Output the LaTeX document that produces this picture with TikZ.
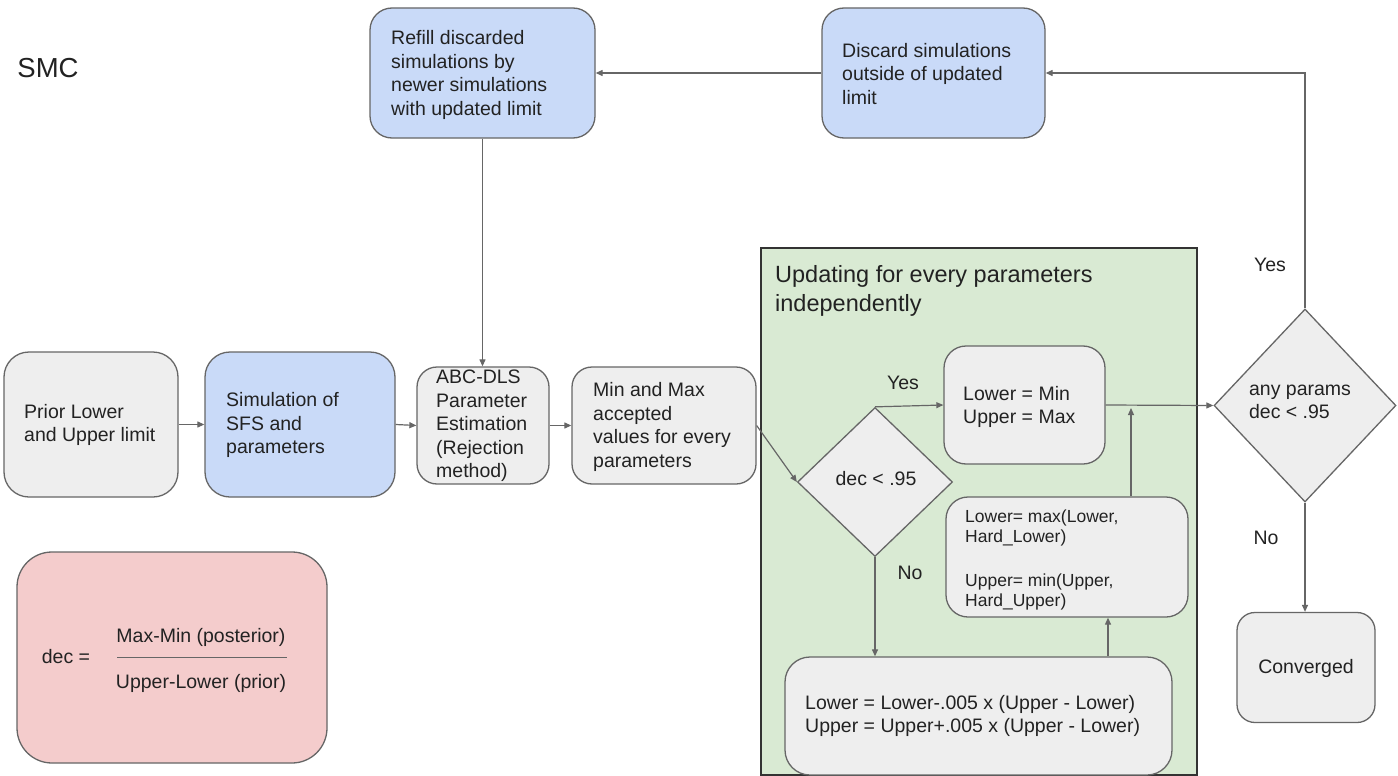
\documentclass[tikz,border=0pt]{standalone}
\usepackage{fontspec}
\setmainfont{Liberation Sans}
\usetikzlibrary{arrows.meta,shapes.geometric}
\definecolor{gfill}{HTML}{EEEEEE}
\definecolor{bfill}{HTML}{C9DAF8}
\definecolor{greenbg}{HTML}{D9EAD3}
\definecolor{rfill}{HTML}{F4CCCC}
\definecolor{edge}{HTML}{666666}
\definecolor{ink}{HTML}{222222}
\begin{document}
\begin{tikzpicture}[x=1pt,y=-1pt,
  box/.style={draw=edge, line width=1.3pt, rounded corners=22pt, inner sep=0pt},
  dia/.style={draw=edge, line width=1.3pt, fill=gfill, diamond, inner sep=0pt},
  txt/.style={font=\fontsize{19.5}{23.5}\selectfont, align=left, inner sep=0pt, text=ink},
  arr/.style={draw=edge, line width=1.2pt, -{Triangle[length=7pt,width=6pt]}},
]
\useasboundingbox (0,0) rectangle (1398,776);
\fill[white] (0,0) rectangle (1398,776);

% green frame
\node[draw=black!80, line width=1.3pt, fill=greenbg, minimum width=436, minimum height=527, inner sep=0pt] (frame) at (979,511.5) {};
\node[txt, font=\fontsize{23.5}{29}\selectfont, anchor=west] (ftitle) at (775,291) {Updating for every parameters\\independently};

% SMC label
\node[txt, font=\fontsize{27.5}{30}\selectfont] (smc) at (48,68) {SMC};

% main row
\node[box, fill=gfill, minimum width=174, minimum height=145, rounded corners=25pt] (prior) at (91,424.5) {};
\node[txt, anchor=west] (priort) at (24,425) {Prior Lower\\and Upper limit};
\node[box, fill=bfill, minimum width=190, minimum height=145, rounded corners=25pt] (sim) at (300,424.5) {};
\node[txt, anchor=west] (simt) at (226,425) {Simulation of\\SFS and\\parameters};
\node[box, fill=gfill, minimum width=132, minimum height=117, rounded corners=20pt] (abc) at (483,425.5) {};
\node[txt, anchor=west] (abct) at (436,426) {ABC-DLS\\Parameter\\Estimation\\(Rejection\\method)};
\node[box, fill=gfill, minimum width=184, minimum height=117, rounded corners=20pt] (minmax) at (664,425.5) {};
\node[txt, anchor=west] (minmaxt) at (593,427) {Min and Max\\accepted\\values for every\\parameters};

% top row
\node[box, fill=bfill, minimum width=225, minimum height=130, rounded corners=22pt] (refill) at (482.5,73) {};
\node[txt, anchor=west] (refillt) at (391,75) {Refill discarded\\simulations by\\newer simulations\\with updated limit};
\node[box, fill=bfill, minimum width=223, minimum height=130, rounded corners=22pt] (disc) at (933.5,73) {};
\node[txt, anchor=west] (disct) at (842,74) {Discard simulations\\outside of updated\\limit};

% inside green frame
\node[dia, minimum width=155, minimum height=149] (dec) at (875,482) {};
\node[txt] (dect) at (876,479) {dec < .95};
\node[box, fill=gfill, minimum width=161, minimum height=118, rounded corners=22pt] (lm) at (1024.5,405) {};
\node[txt, anchor=west] (lmt) at (963,407) {Lower = Min\\Upper = Max};
\node[box, fill=gfill, minimum width=242, minimum height=120, rounded corners=22pt] (hard) at (1067,557) {};
\node[txt, anchor=west, font=\fontsize{17.5}{20.5}\selectfont] (hardt) at (965,560) {Lower= max(Lower,\\Hard\_Lower)\\[23pt]Upper= min(Upper,\\Hard\_Upper)};
\node[box, fill=gfill, minimum width=387, minimum height=118, rounded corners=25pt] (bot) at (978.5,716) {};
\node[txt, anchor=west] (bott) at (805,716) {Lower = Lower-.005 x (Upper - Lower)\\Upper = Upper+.005 x (Upper - Lower)};

% right side
\node[dia, minimum width=182, minimum height=193] (any) at (1305,405.5) {};
\node[txt] (anyt) at (1300,402) {any params\\dec < .95};
\node[box, fill=gfill, minimum width=138, minimum height=110, rounded corners=18pt] (conv) at (1306,667.5) {};
\node[txt] (convt) at (1306,668) {Converged};

% labels
\node[txt] (yes1) at (903,383) {Yes};
\node[txt] (no1) at (910,573) {No};
\node[txt] (yes2) at (1270,265) {Yes};
\node[txt] (no2) at (1266,538) {No};

% dec formula
\node[box, fill=rfill, minimum width=310, minimum height=211, rounded corners=35pt] (formula) at (172,657.5) {};
\node[txt] (dect2) at (66,657) {dec =};
\node[txt] (num) at (201,637) {Max-Min (posterior)};
\node[txt] (den) at (201,683) {Upper-Lower (prior)};
\coordinate (fl) at (117,657);
\coordinate (fr) at (287,657);
\draw[draw=edge, line width=0.9pt] (fl) -- (fr);

% connectors
\coordinate (c1) at (1108,0);
\coordinate (c2) at (1131,0);
\draw[arr] (prior.east) -- (sim.west);
\draw[arr] (sim.east) -- (abc.west);
\draw[arr] (abc.east) -- (minmax.west);
\draw[arr] (minmax.east) -- (dec.west);
\draw[arr] (dec.north) -- (lm.west);
\draw[arr] (dec.south) -- (dec.south |- bot.north);
\draw[arr] (bot.north -| c1) -- (hard.south -| c1);
\draw[arr] (hard.north -| c2) -- ([yshift=-3pt]lm.east -| c2);
\draw[arr] (lm.east) -- (any.west);
\draw[arr] (any.south) -- (any.south |- conv.north);
\draw[arr] (any.north) |- (disc.east);
\draw[arr] (disc.west) -- (refill.east);
\draw[arr] (refill.south) -- (refill.south |- abc.north);
\end{tikzpicture}
\end{document}
